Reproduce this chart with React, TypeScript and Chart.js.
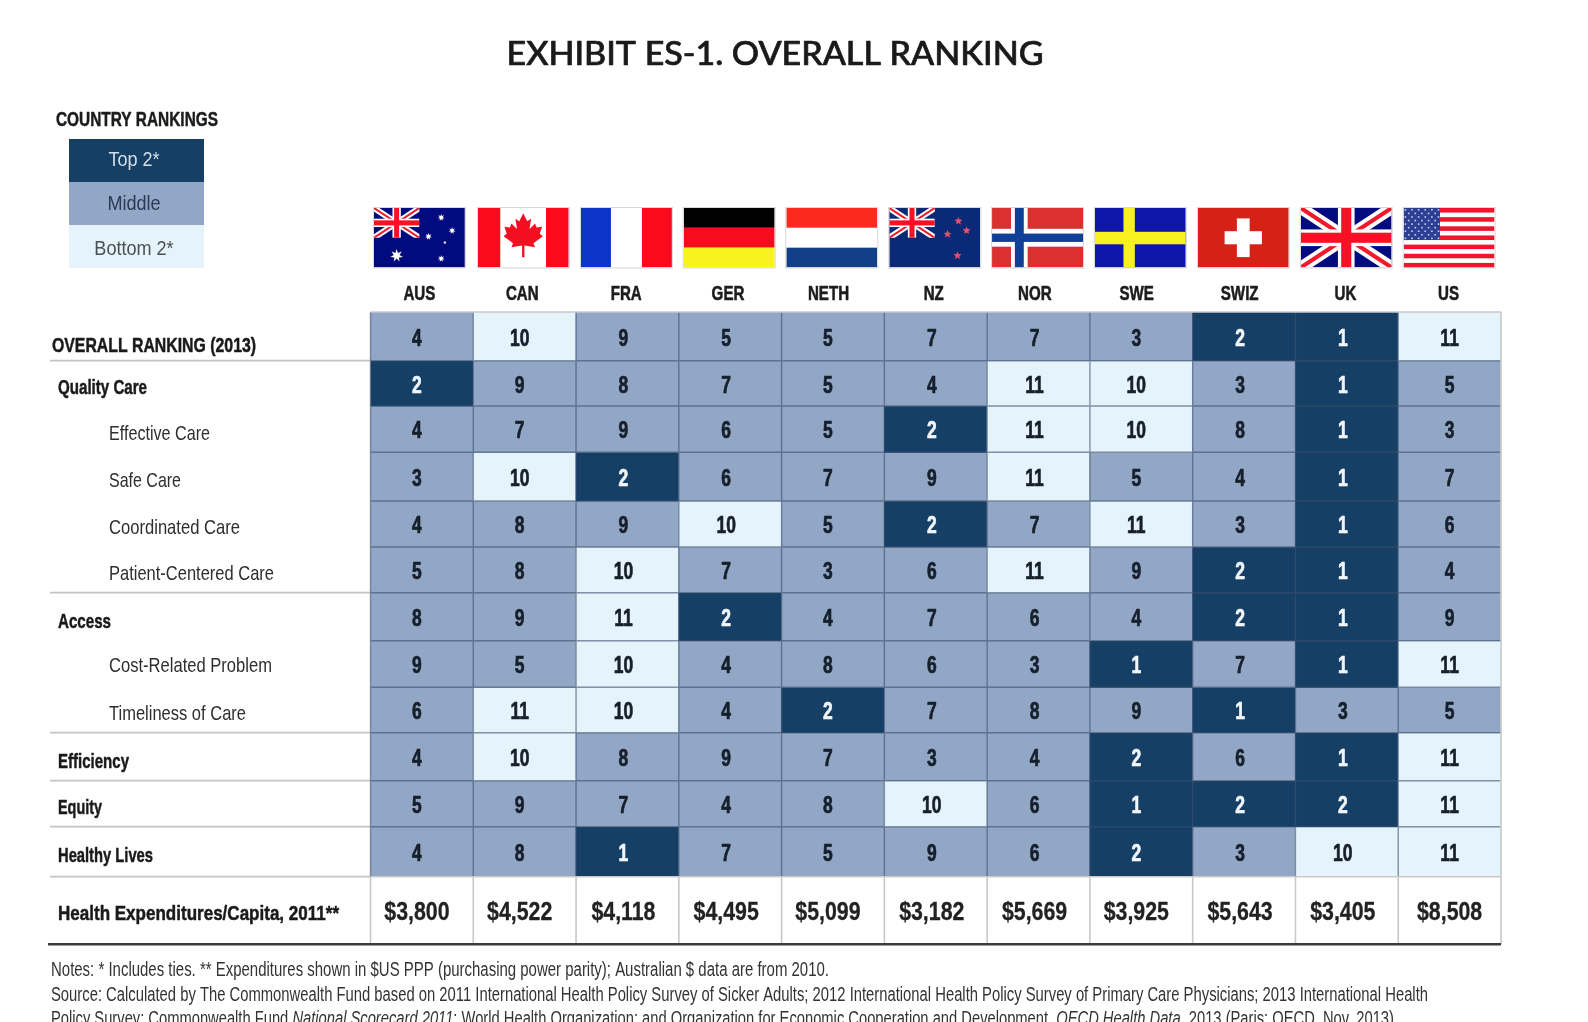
import React, { useEffect, useRef } from "react";
import { Chart, registerables } from "chart.js";

Chart.register(...registerables);

const countries = ["AUS", "CAN", "FRA", "GER", "NETH", "NZ", "NOR", "SWE", "SWIZ", "UK", "US"];
const rowLabels = [
  "OVERALL RANKING (2013)", "Quality Care", "Effective Care", "Safe Care", "Coordinated Care",
  "Patient-Centered Care", "Access", "Cost-Related Problem", "Timeliness of Care", "Efficiency",
  "Equity", "Healthy Lives",
];
const overall = [4, 10, 9, 5, 5, 7, 7, 3, 2, 1, 11];
const qualityCare = [2, 9, 8, 7, 5, 4, 11, 10, 3, 1, 5];
const effectiveCare = [4, 7, 9, 6, 5, 2, 11, 10, 8, 1, 3];
const safeCare = [3, 10, 2, 6, 7, 9, 11, 5, 4, 1, 7];
const coordinatedCare = [4, 8, 9, 10, 5, 2, 7, 11, 3, 1, 6];
const patientCentered = [5, 8, 10, 7, 3, 6, 11, 9, 2, 1, 4];
const access = [8, 9, 11, 2, 4, 7, 6, 4, 2, 1, 9];
const costRelated = [9, 5, 10, 4, 8, 6, 3, 1, 7, 1, 11];
const timeliness = [6, 11, 10, 4, 2, 7, 8, 9, 1, 3, 5];
const efficiency = [4, 10, 8, 9, 7, 3, 4, 2, 6, 1, 11];
const equity = [5, 9, 7, 4, 8, 10, 6, 1, 2, 2, 11];
const healthyLives = [4, 8, 1, 7, 5, 9, 6, 2, 3, 10, 11];
const rankRows = [overall, qualityCare, effectiveCare, safeCare, coordinatedCare, patientCentered,
  access, costRelated, timeliness, efficiency, equity, healthyLives];
const expenditures = [3800, 4522, 4118, 4495, 5099, 3182, 5669, 3925, 5643, 3405, 8508];
const expenditureLabel = "Health Expenditures/Capita, 2011**";
const titleText = "EXHIBIT ES-1. OVERALL RANKING";
const legendTitle = "COUNTRY RANKINGS";
const legendLabels = ["Top 2*", "Middle", "Bottom 2*"];
const note1 = "Notes: * Includes ties. ** Expenditures shown in $US PPP (purchasing power parity); Australian $ data are from 2010.";
const note2 = "Source: Calculated by The Commonwealth Fund based on 2011 International Health Policy Survey of Sicker Adults; 2012 International Health Policy Survey of Primary Care Physicians; 2013 International Health";
const note3 = [
  ["Policy Survey; Commonwealth Fund ", false],
  ["National Scorecard 2011", true],
  ["; World Health Organization; and Organization for Economic Cooperation and Development, ", false],
  ["OECD Health Data", true],
  [", 2013 (Paris: OECD, Nov. 2013).", false],
] as [string, boolean][];

// layout only: row heights of the table, in pixels of the y axis
const rowSpans = [48.7, 45.3, 46.3, 48.7, 46, 45.7, 48, 46.6, 45.4, 48, 46, 50, 67.6];
const rowEdges = rowSpans.reduce((a, s) => [...a, a[a.length - 1] + s], [0]);
const valueNudge = [-5, -5, -4, -4, -5, -4, -4, -5, -4, -4, 0];
const codeNudge = [-2.5, -2.4, -1.2, -2.2, -4.5, -2, -3.7, -4.6, -4.4, -1.3, -1];
const flagNudge = [-2.5, -1.4, -1, -1, -1.2, -1, -1, -1, -.8, -.6, -.5];
const labelNudge = [10, 5, 5, 5, 4.5, 4.5, 6, 2.5, 4.5, 6, 5, 5];

const DARK = "#163f66";
const MID = "#92a6c5";
const LIGHT = "#e5f3fb";
const NARROW = '"Liberation Sans", sans-serif';
const cellColor = (r: number) => (r <= 2 ? DARK : r >= 10 ? LIGHT : MID);

function put(ctx: any, text: string, x: number, y: number, font: string, color: string, align = "left", width?: number, squeeze = 1, heavy = 0) {
  ctx.save();
  ctx.font = font;
  ctx.fillStyle = color;
  ctx.strokeStyle = color;
  ctx.textBaseline = "middle";
  ctx.textAlign = "left";
  const m = ctx.measureText(text).width;
  const k = width ? width / m : squeeze;
  const w = m * k;
  const left = align === "center" ? x - w / 2 : x;
  ctx.translate(left, y);
  ctx.scale(k, 1);
  ctx.fillText(text, 0, 0);
  if (heavy) {
    ctx.lineWidth = heavy;
    ctx.lineJoin = "round";
    ctx.strokeText(text, 0, 0);
  }
  ctx.restore();
}

function star(ctx: any, cx: number, cy: number, r: number, color: string, points = 5) {
  ctx.fillStyle = color;
  ctx.beginPath();
  for (let i = 0; i < points * 2; i++) {
    const rad = i % 2 ? r * 0.45 : r;
    const a = -Math.PI / 2 + (i * Math.PI) / points;
    ctx[i ? "lineTo" : "moveTo"](cx + rad * Math.cos(a), cy + rad * Math.sin(a));
  }
  ctx.closePath();
  ctx.fill();
}

function unionJack(ctx: any, x: number, y: number, w: number, h: number, navy: string) {
  ctx.save();
  ctx.beginPath();
  ctx.rect(x, y, w, h);
  ctx.clip();
  ctx.fillStyle = navy;
  ctx.fillRect(x, y, w, h);
  const diag = (c: string, lw: number) => {
    ctx.strokeStyle = c;
    ctx.lineWidth = lw;
    ctx.beginPath();
    ctx.moveTo(x, y);
    ctx.lineTo(x + w, y + h);
    ctx.moveTo(x + w, y);
    ctx.lineTo(x, y + h);
    ctx.stroke();
  };
  diag("#fff", h * 0.2);
  diag("#f01a2a", h * 0.07);
  ctx.fillStyle = "#fff";
  ctx.fillRect(x + w / 2 - h * 0.14, y, h * 0.28, h);
  ctx.fillRect(x, y + h / 2 - h * 0.14, w, h * 0.28);
  ctx.fillStyle = "#f81024";
  ctx.fillRect(x + w / 2 - h * 0.085, y, h * 0.17, h);
  ctx.fillRect(x, y + h / 2 - h * 0.085, w, h * 0.17);
  ctx.restore();
}

const bandsV = (ctx: any, x: number, y: number, w: number, h: number, cs: [string, number][]) => {
  let p = x;
  cs.forEach(([c, f]) => {
    ctx.fillStyle = c;
    ctx.fillRect(p, y, w * f, h);
    p += w * f;
  });
};
const bandsH = (ctx: any, x: number, y: number, w: number, h: number, cs: string[]) => {
  cs.forEach((c, i) => {
    ctx.fillStyle = c;
    ctx.fillRect(x, y + (h * i) / cs.length, w, h / cs.length);
  });
};
const leaf = [
  [0, -0.5], [0.1, -0.3], [0.2, -0.36], [0.16, -0.1], [0.3, -0.24], [0.34, -0.14], [0.48, -0.16],
  [0.42, 0.02], [0.5, 0.08], [0.26, 0.26], [0.3, 0.36], [0.03, 0.32], [0.03, 0.62],
  [-0.03, 0.62], [-0.03, 0.32], [-0.3, 0.36], [-0.26, 0.26], [-0.5, 0.08], [-0.42, 0.02],
  [-0.48, -0.16], [-0.34, -0.14], [-0.3, -0.24], [-0.16, -0.1], [-0.2, -0.36], [-0.1, -0.3],
];

function flag(ctx: any, code: string, x: number, y: number, w: number, h: number) {
  ctx.save();
  ctx.beginPath();
  ctx.rect(x, y, w, h);
  ctx.clip();
  if (code === "AUS" || code === "NZ") {
    const navy = code === "AUS" ? "#010a7e" : "#0a2a78";
    ctx.fillStyle = navy;
    ctx.fillRect(x, y, w, h);
    unionJack(ctx, x, y, w / 2, h / 2, navy);
    if (code === "AUS") {
      star(ctx, x + w * 0.25, y + h * 0.8, h * 0.11, "#fff", 7);
      [[0.74, 0.16], [0.74, 0.85], [0.6, 0.48], [0.86, 0.38]].forEach(([a, b]) => star(ctx, x + w * a, y + h * b, h * 0.06, "#fff", 7));
      star(ctx, x + w * 0.78, y + h * 0.58, h * 0.03, "#fff");
    } else {
      [[0.76, 0.22], [0.64, 0.44], [0.85, 0.38], [0.75, 0.8]].forEach(([a, b]) => star(ctx, x + w * a, y + h * b, h * 0.07, "#e8506a"));
    }
  } else if (code === "CAN") {
    bandsV(ctx, x, y, w, h, [["#fb0a1c", 0.25], ["#fff", 0.5], ["#fb0a1c", 0.25]]);
    ctx.fillStyle = "#f40f20";
    ctx.beginPath();
    leaf.forEach(([a, b], i) => ctx[i ? "lineTo" : "moveTo"](x + w / 2 + a * h * 0.66, y + h * 0.42 + b * h * 0.66));
    ctx.closePath();
    ctx.fill();
  } else if (code === "FRA") {
    bandsV(ctx, x, y, w, h, [["#0a35c8", 0.33], ["#fff", 0.34], ["#fb0a1c", 0.33]]);
  } else if (code === "GER") {
    bandsH(ctx, x, y, w, h, ["#000", "#f60c1c", "#f8f21e"]);
  } else if (code === "NETH") {
    bandsH(ctx, x, y, w, h, ["#fa2a20", "#fff", "#123f88"]);
  } else if (code === "NOR") {
    ctx.fillStyle = "#dc3030";
    ctx.fillRect(x, y, w, h);
    const cx = x + w * 0.3, cy = y + h / 2;
    ctx.fillStyle = "#fff";
    ctx.fillRect(cx - h * 0.14, y, h * 0.28, h);
    ctx.fillRect(x, cy - h * 0.15, w, h * 0.3);
    ctx.fillStyle = "#103f98";
    ctx.fillRect(cx - h * 0.075, y, h * 0.15, h);
    ctx.fillRect(x, cy - h * 0.07, w, h * 0.14);
  } else if (code === "SWE") {
    ctx.fillStyle = "#0d16a8";
    ctx.fillRect(x, y, w, h);
    ctx.fillStyle = "#f8f020";
    ctx.fillRect(x + w * 0.315, y, w * 0.125, h);
    ctx.fillRect(x, y + h * 0.4, w, h * 0.21);
  } else if (code === "SWIZ") {
    ctx.fillStyle = "#d62216";
    ctx.fillRect(x, y, w, h);
    ctx.fillStyle = "#fff";
    ctx.fillRect(x + w / 2 - w * 0.07, y + h * 0.175, w * 0.14, h * 0.65);
    ctx.fillRect(x + w / 2 - w * 0.205, y + h * 0.39, w * 0.41, h * 0.22);
  } else if (code === "UK") {
    unionJack(ctx, x, y, w, h, "#010a7e");
  } else if (code === "US") {
    for (let i = 0; i < 13; i++) {
      ctx.fillStyle = i % 2 ? "#fff" : "#f0142c";
      ctx.fillRect(x, y + (h * i) / 13, w, h / 13 + 0.5);
    }
    const cw = w * 0.4, ch = (h * 7) / 13;
    ctx.fillStyle = "#2c3f94";
    ctx.fillRect(x, y, cw, ch);
    ctx.fillStyle = "#c8d0ee";
    for (let r = 0; r < 9; r++) for (let c = 0; c < 11; c++) {
      if ((r + c) % 2) continue;
      ctx.fillRect(x + ((c + 0.3) * cw) / 11, y + ((r + 0.3) * ch) / 9, 1.6, 1.6);
    }
  }
  ctx.restore();
  ctx.strokeStyle = "#d8d8d8";
  ctx.lineWidth = 1;
  ctx.strokeRect(x - 0.5, y - 0.5, w + 1, h + 1);
}

const labelWidths = [204, 89, 101, 72, 131, 165, 53, 163, 137, 71, 44, 95];

const tablePlugin = {
  id: "table",
  afterDatasetsDraw(chart: any) {
    const { ctx, scales: { x, y } } = chart;
    const cw = x.width / countries.length;
    const nRank = rankRows.length;
    const edge = (r: number) => y.getPixelForValue(rowEdges[r]);
    const mid = (r: number) => y.getPixelForValue((rowEdges[r] + rowEdges[r + 1]) / 2);
    const lastTop = edge(nRank);
    const bottom = edge(nRank + 1);
    ctx.save();

    // Left rules
    ctx.strokeStyle = "#c4c4c4";
    ctx.lineWidth = 1.8;
    ctx.beginPath();
    [1, 6, 9, 10, 11, 12].forEach((r) => {
      ctx.moveTo(50, edge(r));
      ctx.lineTo(x.left, edge(r));
    });
    ctx.stroke();

    // Grid lines
    ctx.lineWidth = 1.4;
    ctx.strokeStyle = "rgba(60,80,110,0.6)";
    ctx.beginPath();
    for (let i = 0; i < countries.length; i++) {
      const px = x.left + i * cw;
      ctx.moveTo(px, y.top);
      ctx.lineTo(px, lastTop);
    }
    for (let r = 1; r < nRank; r++) {
      ctx.moveTo(x.left, edge(r));
      ctx.lineTo(x.right, edge(r));
    }
    ctx.stroke();
    ctx.strokeStyle = "#c9c9c9";
    ctx.lineWidth = 1.6;
    ctx.beginPath();
    for (let i = 0; i <= countries.length; i++) {
      const px = x.left + i * cw;
      ctx.moveTo(px, i === countries.length ? y.top : lastTop);
      ctx.lineTo(px, bottom);
    }
    ctx.moveTo(x.left, y.top);
    ctx.lineTo(x.right, y.top);
    ctx.moveTo(x.left, lastTop);
    ctx.lineTo(x.right, lastTop);
    ctx.stroke();
    ctx.strokeStyle = "#3c3c3c";
    ctx.lineWidth = 2.4;
    ctx.beginPath();
    ctx.moveTo(48, bottom);
    ctx.lineTo(x.right, bottom);
    ctx.stroke();

    // Cell values
    rankRows.forEach((row, r) => {
      row.forEach((v, c) => {
        const px = x.getPixelForValue(c) + valueNudge[c];
        put(ctx, String(v), px, mid(r) + 3, `bold 23px ${NARROW}`, v <= 2 ? "#f2f6fa" : "#16202c", "center", undefined, 0.76, 0.7);
      });
    });
    expenditures.forEach((v, c) => {
      put(ctx, "$" + v.toLocaleString("en-US"), x.getPixelForValue(c) + valueNudge[c], mid(nRank) + 2.5, `bold 26px ${NARROW}`, "#222", "center", undefined, 0.82, 0.3);
    });

    // Row labels
    rowLabels.forEach((label, r) => {
      const child = [2, 3, 4, 5, 7, 8].includes(r);
      const lx = r === 0 ? 52 : child ? 109 : 58;
      const font = child ? `21px ${NARROW}` : `bold 21px ${NARROW}`;
      put(ctx, label, lx, mid(r) + labelNudge[r], font, child ? "#2e2e2e" : "#1a1a1a", "left", labelWidths[r], 1, child ? 0 : 0.5);
    });
    put(ctx, expenditureLabel, 58, mid(nRank) + 3.5, `bold 21px ${NARROW}`, "#1a1a1a", "left", 281, 1, 0.5);

    // Flags and country labels
    countries.forEach((code, c) => {
      const px = x.getPixelForValue(c);
      flag(ctx, code, px + flagNudge[c] - 45.5, 208, 91, 59.5);
      put(ctx, code, px + codeNudge[c], 294.5, `bold 21px ${NARROW}`, "#1c1c1c", "center", undefined, 0.72, 0.6);
    });

    // Title
    put(ctx, titleText, 775, 54, "500 33px Lato, sans-serif", "#1a1a1a", "center", 537, 1, 0.7);

    // Legend
    put(ctx, legendTitle, 56, 120, `bold 21px ${NARROW}`, "#1c1c1c", "left", 162, 1, 0.5);
    const boxes: [string, number, string, number][] = [
      [DARK, 139, "#d5dfe9", 160],
      [MID, 182, "#2b3a55", 204],
      [LIGHT, 225, "#4a4f55", 249],
    ];
    boxes.forEach(([fill, top, color, ty], i) => {
      ctx.fillStyle = fill;
      ctx.fillRect(69, top, 135, 43);
      put(ctx, legendLabels[i], 134, ty, `21px ${NARROW}`, color, "center", undefined, 0.86);
    });

    // Notes
    const noteFont = `20px ${NARROW}`;
    put(ctx, note1, 51, 970, noteFont, "#333", "left", 778);
    put(ctx, note2, 51, 995.5, noteFont, "#333", "left", 1377);
    const measure = (s: string, it: boolean) => {
      ctx.font = (it ? "italic " : "") + noteFont;
      return ctx.measureText(s).width;
    };
    const total = note3.reduce((a, [s, it]) => a + measure(s, it), 0);
    const k = 1347 / total;
    let nx = 51;
    note3.forEach(([s, it]) => {
      const w = measure(s, it) * k;
      put(ctx, s, nx, 1019, (it ? "italic " : "") + noteFont, "#333", "left", w);
      nx += w;
    });
    ctx.restore();
  },
};

export default function App() {
  const ref = useRef<HTMLCanvasElement>(null);
  useEffect(() => {
    const datasets: any[] = rankRows.map((row, r) => ({
      label: rowLabels[r],
      data: row.map(() => [rowEdges[r], rowEdges[r + 1]]),
      backgroundColor: row.map(cellColor),
      borderWidth: 0,
      barPercentage: 1,
      categoryPercentage: 1,
      grouped: false,
    }));
    datasets.push({
      label: expenditureLabel,
      data: expenditures.map(() => [rowEdges[rankRows.length], rowEdges[rankRows.length + 1]]),
      backgroundColor: "#ffffff",
      borderWidth: 0,
      barPercentage: 1,
      categoryPercentage: 1,
      grouped: false,
    });
    const chart = new Chart(ref.current!, {
      type: "bar",
      data: { labels: countries, datasets },
      options: {
        responsive: false,
        animation: false,
        layout: { padding: { left: 370.5, right: 87, top: 312, bottom: 77.7 } },
        scales: {
          x: { display: false, type: "category" },
          y: { display: false, type: "linear", reverse: true, min: 0, max: rowEdges[rowEdges.length - 1] },
        },
        plugins: { legend: { display: false }, tooltip: { enabled: false }, title: { display: false } },
      },
      plugins: [tablePlugin],
    });
    return () => chart.destroy();
  }, []);
  return (
    <div style={{ position: "fixed", left: 0, top: 0, width: 1588, height: 1022, overflow: "hidden", background: "#fff" }}>
      <canvas ref={ref} width={1588} height={1022} style={{ display: "block", filter: "blur(0.6px)" }} />
    </div>
  );
}
